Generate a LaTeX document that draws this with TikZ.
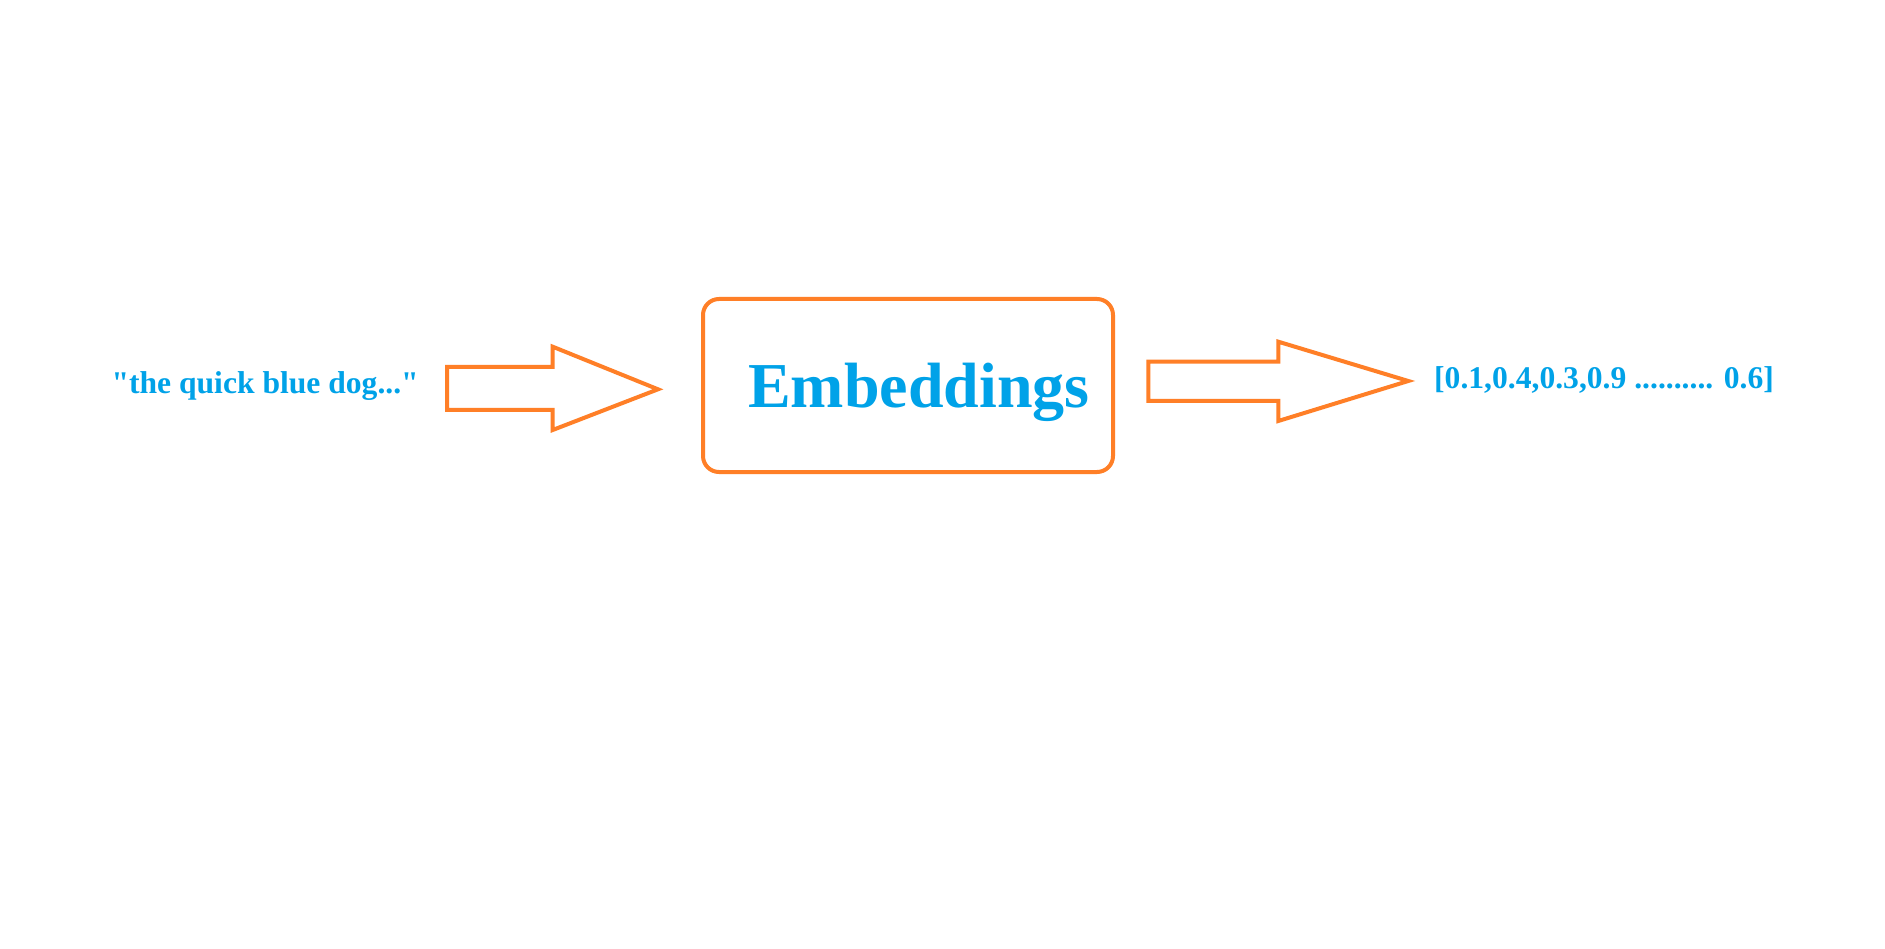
\documentclass[tikz,border=0pt]{standalone}
\usepackage{fontspec}
\setmainfont{Liberation Serif}[Ligatures=TeXOff]
\definecolor{paintorange}{RGB}{255,127,39}
\definecolor{paintblue}{RGB}{0,162,232}
\tikzset{
  blockarrow/.style={draw=paintorange, line width=4pt, line join=miter},
  embbox/.style={draw=paintorange, line width=4pt, rounded corners=16pt, minimum width=410pt, minimum height=173pt, inner sep=0pt},
  smalltxt/.style={text=paintblue, font=\bfseries\fontsize{31.6}{38}\selectfont, inner sep=0pt},
  bigtxt/.style={text=paintblue, font=\bfseries\fontsize{64}{76}\selectfont, inner sep=0pt, anchor=base},
}
\begin{document}
\begin{tikzpicture}[x=1pt,y=-1pt]
\useasboundingbox[fill=white] (0,0) rectangle (1885,949);
% input text
\node[smalltxt, anchor=base east] (input) at (419,393.5) {"the quick blue dog..."};
% left block arrow
\draw[blockarrow] (447,367) -- (552.7,367) -- (552.7,346.7) -- (658,389.3) -- (552.7,430) -- (552.7,410) -- (447,410) -- cycle;
% embeddings box
\node[embbox] (box) at (908,385.5) {};
\node[bigtxt] (emb) at (919,407) {Embeddings};
% right block arrow
\draw[blockarrow] (1148.3,361.7) -- (1278.3,361.7) -- (1278.3,341.7) -- (1408.3,381) -- (1278.3,421) -- (1278.3,401) -- (1148.3,401) -- cycle;
% output vector
\node[smalltxt, anchor=base west] (output) at (1434,388.3) {[0.1,0.4,0.3,0.9 .......... 0.6]};
\end{tikzpicture}
\end{document}
